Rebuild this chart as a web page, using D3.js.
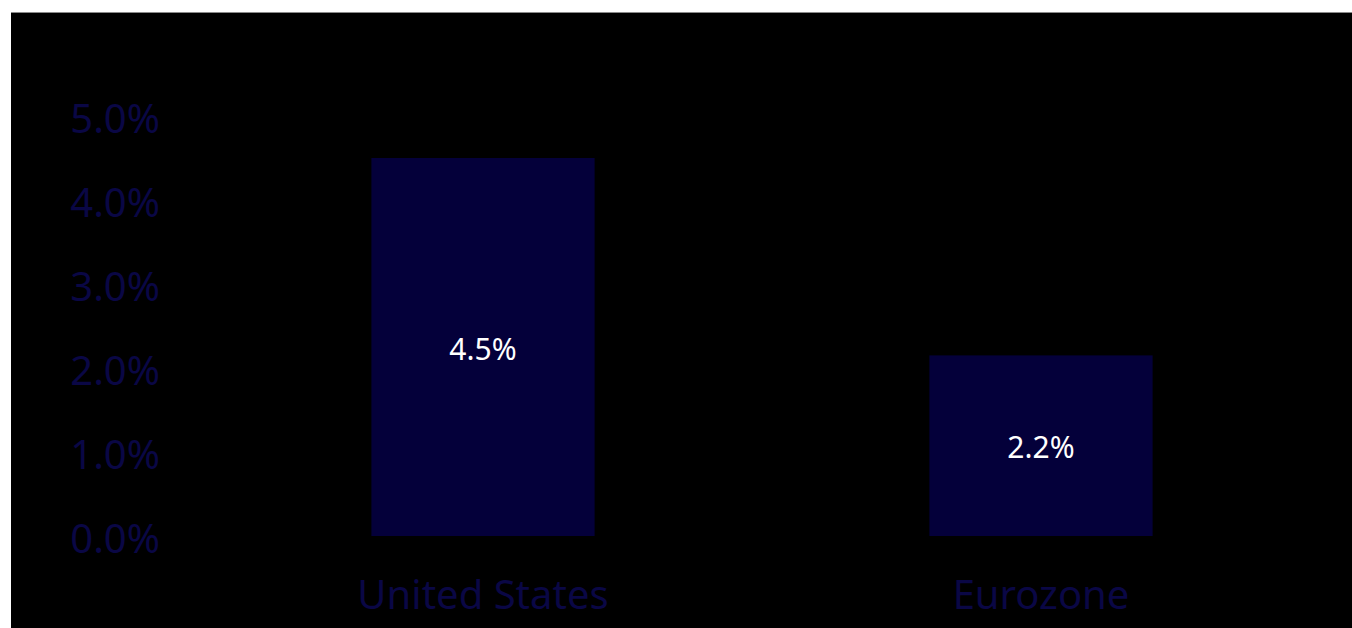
<!DOCTYPE html>
<html>
<head>
<meta charset="utf-8">
<script src="https://cdn.jsdelivr.net/npm/d3@7"></script>
<style>
  html, body { margin: 0; padding: 0; background: #fff; overflow: hidden; }
  #chart { position: absolute; left: 11px; top: 12px; }
  text { font-family: "Noto Sans", "Open Sans", sans-serif; }
</style>
</head>
<body>
<div id="chart"></div>
<script>
const categories = ["United States", "Eurozone"];
const values = [4.5, 2.15];
const valueLabels = ["4.5%", "2.2%"];
const yTicks = [0, 1, 2, 3, 4, 5];

const W = 1341, H = 616;
const offX = 11, offY = 12; // svg offset on page

const svg = d3.select("#chart").append("svg").attr("width", W).attr("height", H);
svg.append("rect").attr("width", W).attr("height", H).attr("fill", "#000");
svg.append("line").attr("x1", 0).attr("x2", W).attr("y1", 0.5).attr("y2", 0.5)
  .attr("stroke", "#8a8a8a").attr("stroke-width", 1);

const g = svg.append("g").attr("transform", `translate(${-offX},${-offY})`);

const x = d3.scaleBand().domain(categories).range([204, 1320]).paddingInner(0.6).paddingOuter(0.3);
const y = d3.scaleLinear().domain([0, 5]).range([536, 116]);

// y axis labels
const yAxis = g.append("g").attr("transform", "translate(160,2)")
  .call(d3.axisLeft(y).tickValues(yTicks).tickFormat(d => d3.format(".1f")(d) + "%").tickSize(0).tickPadding(0));
yAxis.select(".domain").remove();
yAxis.selectAll("text").attr("fill", "#0a0745").style("font-size", "40px")
  .style("font-family", "'Noto Sans', sans-serif").attr("dy", "0.35em");

// bars
g.selectAll(".bar").data(categories).enter().append("rect")
  .attr("class", "bar")
  .attr("x", d => x(d))
  .attr("width", x.bandwidth())
  .attr("y", (d, i) => y(values[i]))
  .attr("height", (d, i) => y(0) - y(values[i]))
  .attr("fill", "#04003a");

// value labels
g.selectAll(".val").data(categories).enter().append("text")
  .attr("class", "val")
  .attr("x", d => x(d) + x.bandwidth() / 2)
  .attr("y", (d, i) => (y(values[i]) + y(0)) / 2 + 2)
  .attr("dy", "0.35em")
  .attr("text-anchor", "middle")
  .attr("fill", "#fff")
  .style("font-size", "30px")
  .text((d, i) => valueLabels[i]);

// category labels
const xAxis = g.append("g").attr("transform", "translate(0,595)")
  .call(d3.axisBottom(x).tickSize(0).tickPadding(0));
xAxis.select(".domain").remove();
xAxis.selectAll("text").attr("fill", "#0a0745").style("font-size", "40px")
  .style("font-family", "'Noto Sans', sans-serif").attr("dy", "0.35em");
</script>
</body>
</html>
